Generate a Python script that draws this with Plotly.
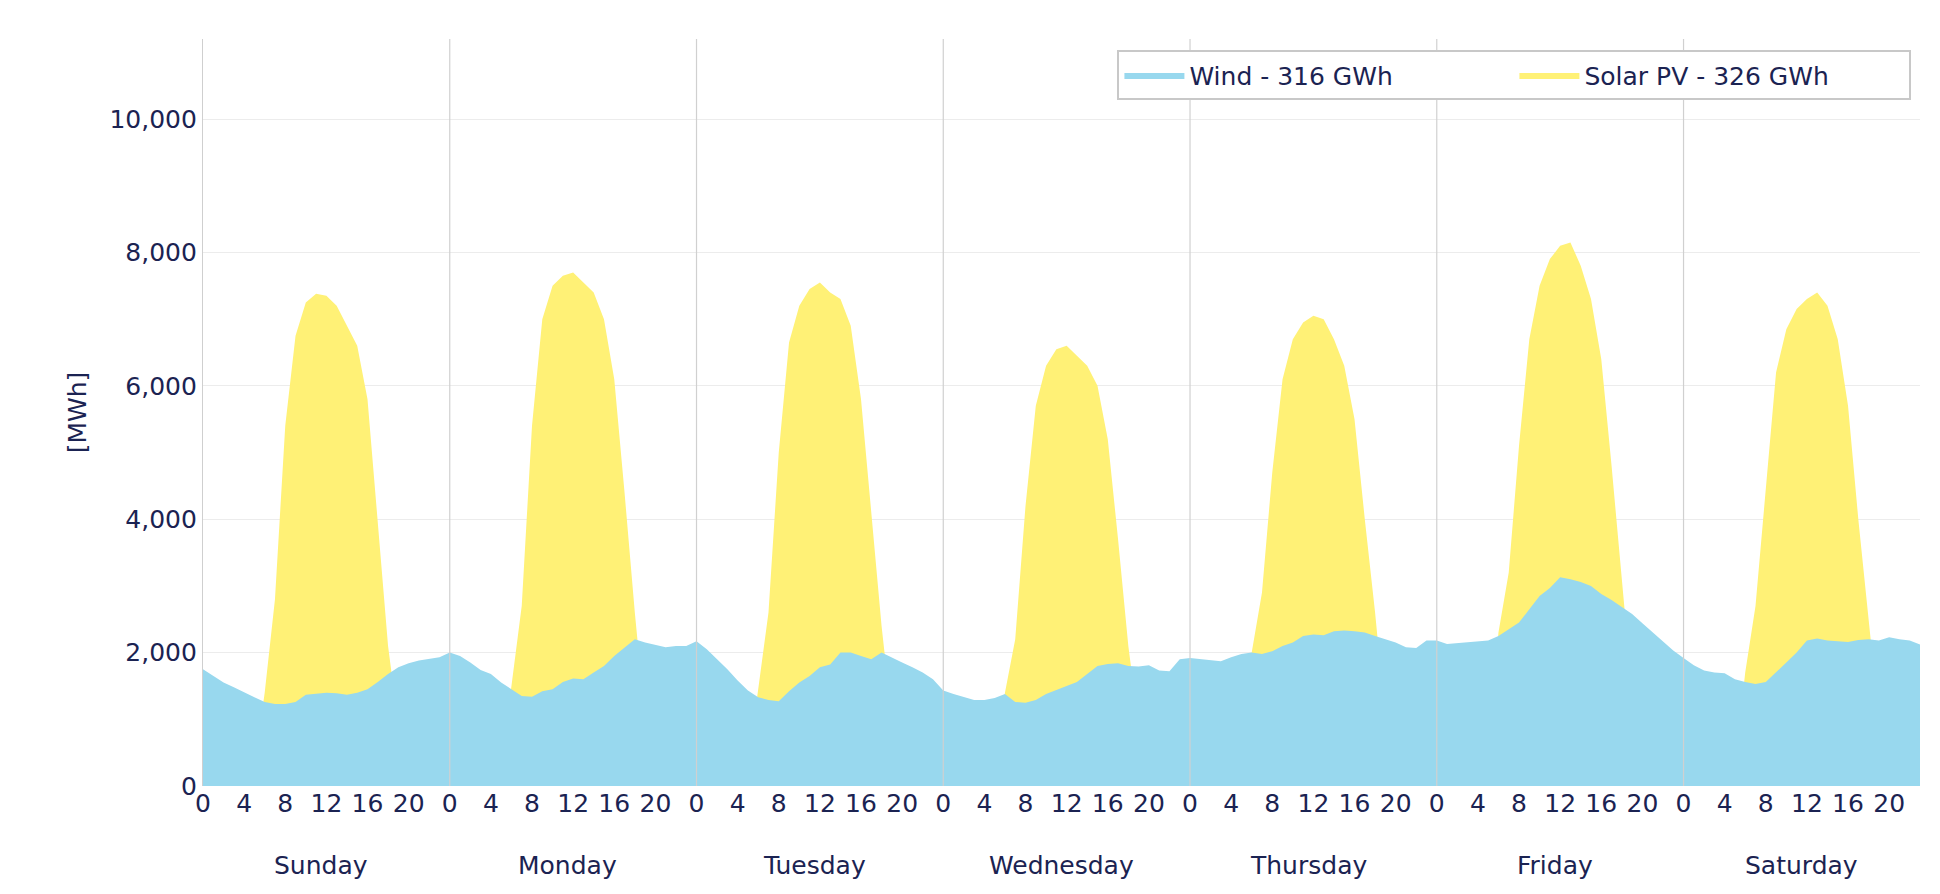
import plotly.graph_objects as go

days = ["Sunday", "Monday", "Tuesday", "Wednesday", "Thursday", "Friday", "Saturday"]
hour_ticks = [0, 4, 8, 12, 16, 20]

# hourly generation [MWh], one list per day (hours 0..23)
wind_by_day = [
    [1750, 1650, 1550, 1480, 1400, 1330, 1260, 1230, 1230, 1260, 1370, 1390, 1400, 1390, 1370, 1400, 1450, 1560, 1680, 1780, 1840, 1880, 1900, 1930],
    [2000, 1950, 1850, 1740, 1680, 1550, 1450, 1350, 1340, 1420, 1450, 1560, 1610, 1600, 1700, 1800, 1950, 2080, 2200, 2150, 2120, 2080, 2100, 2100],
    [2170, 2050, 1900, 1750, 1580, 1430, 1330, 1290, 1270, 1420, 1550, 1650, 1780, 1820, 2000, 2000, 1950, 1900, 2000, 1920, 1850, 1780, 1700, 1600],
    [1430, 1380, 1330, 1290, 1290, 1320, 1380, 1260, 1250, 1290, 1380, 1440, 1500, 1560, 1680, 1800, 1830, 1840, 1800, 1790, 1810, 1730, 1720, 1900],
    [1920, 1900, 1880, 1870, 1930, 1980, 2000, 1980, 2020, 2100, 2150, 2250, 2270, 2260, 2320, 2330, 2320, 2300, 2250, 2200, 2150, 2080, 2070, 2180],
    [2180, 2130, 2140, 2160, 2170, 2180, 2250, 2350, 2450, 2650, 2850, 2970, 3130, 3100, 3060, 3000, 2880, 2790, 2680, 2580, 2440, 2300, 2160, 2030],
    [1920, 1810, 1730, 1700, 1690, 1600, 1560, 1530, 1560, 1700, 1850, 2000, 2180, 2210, 2180, 2170, 2160, 2190, 2200, 2180, 2230, 2200, 2180, 2120],
]
solar_by_day = [
    [0, 0, 0, 0, 0, 300, 1400, 2800, 5400, 6750, 7250, 7380, 7350, 7200, 6900, 6600, 5800, 4000, 2100, 900, 200, 0, 0, 0],
    [0, 0, 0, 0, 0, 300, 1500, 2700, 5400, 7000, 7500, 7650, 7700, 7550, 7400, 7000, 6100, 4400, 2600, 1000, 200, 0, 0, 0],
    [0, 0, 0, 0, 0, 300, 1450, 2600, 5000, 6650, 7200, 7450, 7550, 7400, 7300, 6900, 5800, 4100, 2400, 1000, 200, 0, 0, 0],
    [0, 0, 0, 0, 0, 300, 1400, 2200, 4200, 5700, 6300, 6550, 6600, 6450, 6300, 6000, 5200, 3700, 2100, 900, 200, 0, 0, 0],
    [0, 0, 0, 0, 0, 400, 2000, 2900, 4700, 6100, 6700, 6950, 7050, 7000, 6700, 6300, 5500, 4000, 2600, 1000, 200, 0, 0, 0],
    [0, 0, 0, 0, 0, 500, 2300, 3200, 5100, 6700, 7500, 7900, 8100, 8150, 7800, 7300, 6400, 4800, 3100, 1400, 300, 0, 0, 0],
    [0, 0, 0, 0, 0, 300, 1700, 2700, 4500, 6200, 6850, 7150, 7300, 7400, 7200, 6700, 5700, 4000, 2500, 1000, 200, 0, 0, 0],
]

wind = [v for d in wind_by_day for v in d]
solar = [v for d in solar_by_day for v in d]
x = list(range(len(wind)))

navy = "#1b2352"
font = "DejaVu Sans"

fig = go.Figure()
fig.add_trace(go.Scatter(x=x, y=solar, fill="tozeroy", mode="lines", line=dict(width=0),
                         fillcolor="#fff176", name="Solar PV - 326 GWh"))
fig.add_trace(go.Scatter(x=x, y=wind, fill="tozeroy", mode="lines", line=dict(width=0),
                         fillcolor="#98d8ee", name="Wind - 316 GWh"))

# day separators and day names
for i, day in enumerate(days):
    if i > 0:
        fig.add_vline(x=i * 24, line=dict(color="#d0d0d0", width=1.2), layer="above")
    fig.add_annotation(x=i * 24 + 11.5, y=-0.085, yref="paper", text=day, showarrow=False,
                       font=dict(family=font, size=25, color=navy), yanchor="top")

tickvals = [d * 24 + h for d in range(len(days)) for h in hour_ticks]
ticktext = [str(h) for d in range(len(days)) for h in hour_ticks]

fig.update_layout(
    width=1940, height=894,
    margin=dict(l=195, r=28, t=31, b=116),
    plot_bgcolor="white", paper_bgcolor="white",
    font=dict(family=font, size=25, color=navy),
    legend=dict(orientation="h", x=0.995, y=0.985, xanchor="right", yanchor="top",
                bordercolor="#c8c8c8", borderwidth=2, traceorder="reversed",
                font=dict(size=25, color=navy), itemwidth=60, entrywidth=320),
    xaxis=dict(range=[0, 167], tickvals=tickvals, ticktext=ticktext, showgrid=False,
               zeroline=False, showline=False, ticks="", tickfont=dict(size=25)),
    yaxis=dict(range=[0, 11200], tickvals=[0, 2000, 4000, 6000, 8000, 10000],
               tickformat=",", gridcolor="#ececec", zeroline=False,
               showline=True, linecolor="#cfcfcf", linewidth=1.2,
               title=dict(text="[MWh]", font=dict(size=25)), tickfont=dict(size=25)),
)

fig.write_html("out.html")
